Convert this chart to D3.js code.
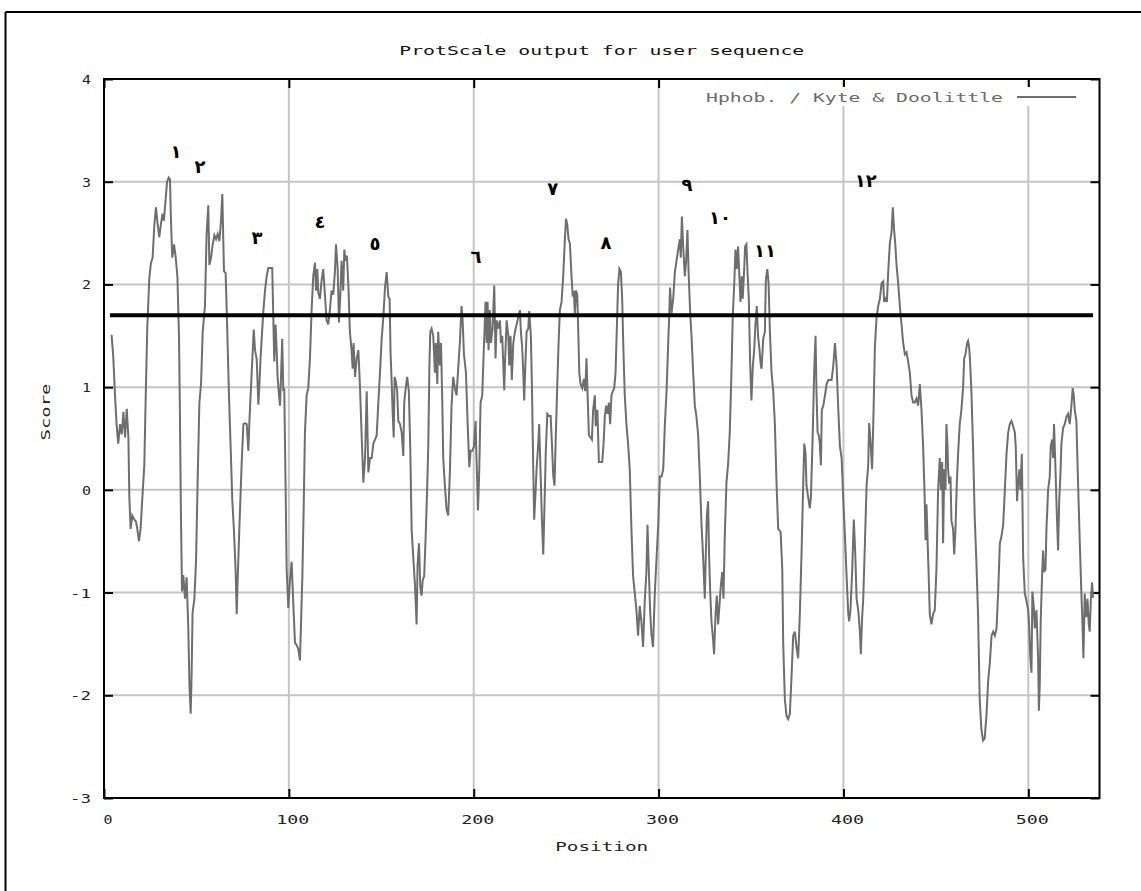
<!DOCTYPE html>
<html>
<head>
<meta charset="utf-8">
<script src="https://cdn.jsdelivr.net/npm/d3@7"></script>
<style>
  body { margin: 0; background: #fff; }
  svg text { font-family: "DejaVu Sans Mono", "Liberation Mono", monospace; }
</style>
</head>
<body>
<div id="chart"></div>
<script>
const width = 1141;
const height = 891;

// texts
const title = "ProtScale output for user sequence";
const legendLabel = "Hphob. / Kyte & Doolittle";
const xLabel = "Position";
const yLabel = "Score";

// axes
const xDomain = [0, 538.5];
const yDomain = [-3, 4];
const xTicks = [0, 100, 200, 300, 400, 500];
const yTicks = [-3, -2, -1, 0, 1, 2, 3, 4];

// cut-off line drawn over the profile
const threshold = 1.7;
const thresholdFrom = 3.2;
const thresholdTo = 535;

// hand-written peak numbers
const peakLabels = ["١", "٢", "٣", "٤", "٥", "٦", "٧", "٨", "٩", "١٠", "١١", "١٢"];
const peakPositions = [38.9, 51.9, 82.7, 116.8, 146.6, 201.2, 242.8, 271.5, 315.3, 333.2, 357.5, 412.1];
const peakScores = [3.29, 3.15, 2.46, 2.61, 2.40, 2.27, 2.93, 2.41, 2.97, 2.65, 2.33, 3.01];

// [position, score]
const profile = [
  [4.1,1.51],[5.0,1.30],[5.9,0.94],[6.8,0.64],[7.7,0.45],[8.7,0.64],[9.6,0.54],[10.5,0.76],[11.4,0.51],[12.3,0.79],
  [13.2,0.51],[13.7,-0.07],[14.4,-0.38],[15.3,-0.25],[16.4,-0.29],[17.3,-0.31],[18.0,-0.38],[18.9,-0.50],[19.8,-0.38],[20.7,-0.09],
  [21.8,0.24],[22.5,0.85],[23.4,1.57],[24.5,2.06],[25.4,2.21],[26.3,2.26],[27.2,2.57],[28.1,2.75],[29.0,2.59],[29.9,2.46],
  [30.8,2.59],[31.7,2.69],[32.4,2.62],[33.4,2.84],[34.1,3.00],[35.0,3.04],[35.7,3.02],[36.2,2.64],[36.9,2.26],[37.9,2.39],
  [38.8,2.26],[39.7,2.08],[40.6,1.47],[41.1,0.69],[41.6,-0.22],[42.2,-0.99],[42.9,-0.83],[43.8,-1.06],[44.7,-0.85],[45.6,-1.35],
  [46.2,-1.89],[46.9,-2.18],[47.4,-1.79],[47.9,-1.20],[48.9,-1.06],[49.8,-0.68],[50.7,0.13],[51.6,0.85],[52.5,1.03],[53.4,1.54],
  [54.6,1.79],[55.5,2.49],[56.4,2.77],[57.0,2.19],[57.9,2.26],[58.8,2.39],[59.7,2.48],[60.6,2.44],[61.5,2.49],[62.4,2.42],
  [63.3,2.62],[64.0,2.88],[64.9,2.13],[65.8,2.11],[66.7,1.54],[67.6,0.92],[68.5,0.42],[69.4,-0.10],[70.3,-0.40],[71.2,-0.79],
  [71.8,-1.21],[72.3,-0.88],[73.2,-0.38],[74.5,0.27],[75.4,0.64],[76.3,0.65],[77.2,0.64],[78.1,0.38],[78.6,0.64],[79.3,0.92],
  [80.0,1.18],[81.0,1.56],[81.7,1.36],[82.6,1.27],[83.5,0.83],[84.0,1.00],[84.7,1.29],[85.6,1.56],[86.2,1.74],[87.1,1.94],
  [88.0,2.08],[88.9,2.16],[90.0,2.16],[91.0,2.16],[91.6,1.66],[92.1,1.25],[92.8,1.61],[93.4,1.36],[93.9,1.10],[94.6,0.94],
  [95.2,0.82],[95.7,1.07],[96.4,1.47],[97.0,0.96],[97.5,0.99],[98.2,0.07],[98.8,-0.77],[99.7,-1.15],[100.6,-0.88],[101.5,-0.70],
  [102.4,-1.11],[103.3,-1.49],[104.2,-1.51],[105.1,-1.55],[106.0,-1.66],[106.5,-1.35],[107.3,-0.84],[108.0,-0.19],[108.7,0.56],[109.6,0.92],
  [110.5,0.99],[111.4,1.28],[112.3,1.75],[113.2,2.08],[114.1,2.21],[114.7,1.94],[115.4,2.15],[115.9,1.92],[116.8,1.86],[117.7,2.04],
  [118.6,2.15],[119.5,1.90],[120.4,1.65],[121.3,1.61],[122.2,1.75],[123.1,1.94],[124.0,1.90],[124.9,2.12],[125.5,2.39],[126.4,2.15],
  [127.1,1.63],[127.8,1.88],[128.5,2.23],[129.4,1.94],[130.0,2.34],[130.7,2.23],[131.4,2.28],[132.2,1.99],[133.0,1.54],[133.9,1.36],
  [134.5,1.18],[135.0,1.43],[135.8,1.10],[136.7,1.28],[137.6,1.36],[138.5,0.99],[139.4,0.51],[140.3,0.07],[141.2,0.31],[142.1,0.96],
  [143.0,0.17],[143.9,0.31],[144.8,0.31],[145.7,0.45],[146.6,0.49],[147.5,0.53],[148.4,0.85],[149.3,1.14],[150.2,1.47],[151.1,1.68],
  [152.0,1.97],[152.9,2.12],[153.8,1.88],[154.5,1.86],[155.0,1.34],[155.6,1.05],[156.1,0.78],[156.7,0.51],[157.2,1.10],[157.9,1.05],
  [158.6,0.96],[159.2,0.67],[160.1,0.64],[161.0,0.56],[161.9,0.33],[162.4,0.85],[163.2,0.99],[164.0,1.10],[164.9,0.96],[165.7,0.38],
  [166.4,-0.38],[167.3,-0.66],[168.2,-0.92],[169.1,-1.31],[169.6,-0.74],[170.4,-0.52],[171.1,-0.95],[171.8,-1.03],[172.4,-0.88],[173.2,-0.84],
  [174.0,-0.45],[174.9,0.07],[175.4,0.42],[176.0,1.18],[176.5,1.54],[177.2,1.57],[178.1,1.50],[179.0,1.14],[179.5,1.43],[180.3,1.03],
  [180.8,1.54],[181.7,1.21],[182.3,1.43],[183.0,0.85],[183.5,0.31],[184.4,0.04],[185.3,-0.19],[186.2,-0.25],[187.1,0.17],[188.0,0.82],
  [188.9,1.10],[189.8,0.99],[190.7,0.92],[191.6,1.18],[192.5,1.43],[193.4,1.79],[194.0,1.65],[194.7,1.32],[195.8,1.14],[196.7,0.65],
  [197.6,0.22],[198.3,0.38],[199.2,0.38],[200.1,0.42],[201.0,0.67],[201.5,0.31],[202.3,-0.20],[203.0,0.20],[203.7,0.85],[204.6,0.92],
  [205.5,1.39],[206.4,1.83],[207.0,1.43],[207.5,1.83],[208.0,1.36],[208.7,1.75],[209.3,1.43],[210.2,1.57],[211.1,1.99],[211.8,1.28],
  [212.4,1.65],[213.3,1.57],[214.2,1.65],[214.7,1.43],[215.4,1.50],[216.0,1.21],[216.5,0.97],[217.0,1.28],[217.8,1.65],[218.7,1.50],
  [219.2,1.21],[219.9,1.50],[220.6,1.07],[221.4,1.43],[222.3,1.54],[223.2,1.61],[224.1,1.68],[225.0,1.75],[225.5,1.54],[226.2,1.39],
  [226.8,1.14],[227.3,0.87],[228.0,1.25],[228.6,1.54],[229.5,1.57],[230.0,1.74],[230.9,1.50],[231.5,0.99],[232.2,0.20],[232.7,-0.29],
  [233.4,-0.04],[234.0,0.20],[234.9,0.45],[235.4,0.64],[236.2,0.14],[236.9,-0.30],[237.6,-0.63],[238.3,-0.14],[239.0,0.38],[239.8,0.74],
  [240.7,0.72],[241.6,0.72],[242.3,0.45],[243.0,0.14],[243.7,0.04],[244.4,0.53],[245.2,1.03],[245.9,1.43],[246.6,1.75],[247.5,1.83],
  [248.4,2.08],[249.3,2.44],[249.9,2.64],[250.6,2.58],[251.3,2.44],[252.0,2.40],[252.9,2.08],[253.5,1.90],[254.2,1.92],[254.7,1.72],
  [255.3,1.94],[256.0,1.90],[256.5,1.57],[257.1,1.14],[257.8,1.03],[258.7,0.99],[259.6,1.08],[260.3,0.96],[261.0,1.28],[261.6,0.92],
  [262.3,0.53],[263.2,0.51],[263.9,0.49],[264.6,0.78],[265.5,0.92],[266.0,0.62],[266.9,0.78],[267.7,0.27],[268.6,0.27],[269.5,0.27],
  [270.2,0.44],[270.9,0.71],[271.6,0.82],[272.4,0.74],[273.1,0.85],[273.8,0.64],[274.5,0.92],[275.2,0.96],[276.0,0.99],[276.7,1.14],
  [277.4,1.57],[278.1,2.00],[278.8,2.15],[279.6,2.12],[280.3,1.86],[281.0,1.34],[281.7,0.92],[282.6,0.64],[283.5,0.45],[284.4,0.20],
  [285.3,-0.38],[286.2,-0.84],[287.1,-1.00],[288.0,-1.17],[288.9,-1.42],[289.8,-1.13],[290.7,-1.28],[291.6,-1.53],[292.5,-1.09],[293.4,-0.80],
  [294.0,-0.34],[294.7,-0.77],[295.4,-1.17],[296.1,-1.40],[297.0,-1.53],[297.9,-1.03],[298.9,-0.66],[299.8,-0.34],[300.7,0.13],[301.6,0.13],
  [302.5,0.20],[303.4,0.64],[304.3,0.96],[305.2,1.43],[305.7,1.68],[306.2,1.97],[307.0,1.72],[307.9,1.86],[308.8,2.12],[309.7,2.23],
  [310.6,2.34],[311.5,2.44],[312.0,2.26],[312.6,2.66],[313.3,2.37],[314.2,2.08],[314.9,2.23],[315.6,2.53],[316.3,2.08],[317.1,1.72],
  [317.8,1.50],[318.7,1.14],[319.6,0.82],[320.5,0.71],[321.4,0.53],[322.3,0.13],[323.2,-0.34],[324.1,-0.66],[325.0,-1.06],[325.5,-0.66],
  [326.1,-0.25],[326.8,-0.11],[327.3,-0.63],[327.9,-0.99],[328.6,-1.28],[329.5,-1.46],[330.0,-1.60],[330.8,-1.21],[331.5,-1.03],[332.2,-1.31],
  [332.9,-1.13],[333.6,-0.95],[334.4,-0.80],[335.1,-1.06],[335.8,-0.45],[336.7,0.07],[337.6,0.25],[338.5,0.56],[339.4,1.14],[340.1,1.68],
  [340.9,2.00],[341.6,2.34],[342.3,2.15],[343.0,2.37],[343.7,2.08],[344.3,1.83],[345.0,2.08],[345.5,1.86],[346.3,2.15],[346.8,2.37],
  [347.5,2.39],[348.1,2.12],[348.8,1.86],[349.5,1.25],[350.2,0.87],[351.0,1.21],[351.7,1.36],[352.4,1.61],[353.1,1.79],[353.8,1.50],
  [354.6,1.36],[355.3,1.21],[355.7,1.18],[356.6,1.47],[357.5,1.54],[358.0,2.04],[358.8,2.15],[359.5,2.01],[360.2,1.54],[361.1,1.14],
  [362.0,0.96],[362.9,0.64],[363.8,0.06],[364.7,-0.38],[366.0,-0.41],[366.9,-0.77],[367.4,-1.49],[368.3,-2.04],[369.2,-2.20],[370.1,-2.23],
  [371.0,-2.18],[371.9,-1.82],[372.8,-1.42],[373.7,-1.38],[374.6,-1.53],[375.5,-1.64],[376.4,-1.21],[377.3,-0.63],[378.2,0.04],[378.8,0.45],
  [379.5,0.35],[380.0,0.04],[380.9,-0.07],[381.8,-0.18],[382.4,-0.07],[383.3,0.49],[384.2,1.18],[384.9,1.50],[385.4,0.96],[386.0,0.56],
  [386.7,0.53],[387.2,0.45],[387.8,0.24],[388.3,0.78],[389.1,0.82],[390.0,0.92],[390.9,1.03],[391.8,1.07],[392.7,1.07],[393.6,1.07],
  [394.5,1.21],[395.4,1.43],[396.3,1.21],[397.2,0.78],[398.1,0.42],[399.0,0.31],[399.9,-0.09],[400.8,-0.45],[401.7,-0.84],[402.6,-1.21],
  [403.1,-1.28],[403.8,-1.17],[404.7,-0.80],[405.6,-0.29],[406.4,-0.63],[407.1,-1.06],[408.0,-1.17],[408.9,-1.38],[409.4,-1.60],[410.1,-1.24],
  [410.7,-1.06],[411.6,-0.52],[412.5,0.04],[413.4,0.24],[413.9,0.65],[414.8,0.42],[415.5,0.20],[416.3,0.78],[417.0,1.39],[417.9,1.68],
  [418.8,1.79],[419.7,1.86],[420.6,2.01],[421.5,2.03],[422.0,1.83],[422.8,1.86],[423.5,1.83],[424.2,2.12],[425.1,2.40],[426.0,2.51],
  [426.7,2.75],[427.3,2.55],[428.0,2.40],[428.7,2.19],[429.6,2.01],[430.5,1.79],[431.4,1.61],[432.3,1.43],[433.2,1.32],[434.1,1.34],
  [435.0,1.25],[435.9,1.14],[436.8,0.92],[437.7,0.85],[438.6,0.85],[439.5,0.89],[440.4,0.82],[441.3,1.03],[442.2,0.78],[443.1,0.42],
  [443.9,-0.05],[444.4,-0.49],[444.9,-0.14],[445.8,-0.66],[446.7,-1.21],[447.6,-1.31],[448.5,-1.21],[449.4,-1.17],[450.3,-0.77],[451.2,0.00],
  [452.1,0.31],[452.7,0.00],[453.4,0.27],[453.9,-0.52],[454.5,0.20],[455.2,0.00],[455.7,0.64],[456.3,0.42],[456.6,0.20],[457.2,0.06],
  [457.9,0.13],[458.4,-0.30],[459.3,-0.38],[459.9,-0.63],[460.6,-0.38],[461.3,0.06],[462.0,0.35],[462.9,0.64],[463.8,0.78],[464.7,0.99],
  [465.3,1.28],[466.0,1.32],[466.9,1.43],[467.4,1.45],[468.0,1.39],[468.5,1.25],[469.2,0.96],[470.1,0.42],[471.0,-0.27],[471.9,-0.70],
  [472.8,-1.21],[473.7,-2.04],[474.6,-2.33],[475.5,-2.44],[476.4,-2.42],[477.4,-2.18],[478.3,-1.85],[479.2,-1.68],[480.1,-1.42],[481.0,-1.38],
  [481.9,-1.42],[482.8,-1.35],[483.7,-0.99],[484.6,-0.52],[485.5,-0.45],[486.4,-0.34],[487.3,0.00],[488.2,0.35],[489.1,0.56],[490.0,0.64],
  [490.9,0.67],[491.8,0.62],[492.7,0.56],[493.2,0.42],[493.9,-0.11],[494.5,0.07],[495.2,0.20],[495.7,0.00],[496.5,0.35],[497.2,-0.66],
  [498.1,-1.01],[499.0,-1.08],[499.9,-1.17],[500.4,-1.31],[501.0,-1.60],[501.7,-1.78],[502.2,-0.99],[502.9,-1.13],[503.5,-1.35],[504.4,-1.17],
  [505.3,-1.64],[505.7,-2.15],[506.2,-1.89],[506.7,-1.28],[507.5,-0.80],[508.0,-0.59],[508.5,-0.80],[509.3,-0.77],[509.8,-0.38],[510.7,0.00],
  [511.6,0.13],[512.1,0.42],[512.9,0.49],[513.4,0.31],[513.9,0.64],[514.7,0.20],[515.4,-0.23],[516.1,-0.59],[516.7,-0.11],[517.4,0.17],
  [517.9,0.45],[518.8,0.60],[519.7,0.64],[520.6,0.71],[521.5,0.74],[522.4,0.64],[523.3,0.82],[524.0,0.99],[524.6,0.92],[525.1,0.78],
  [526.0,0.67],[526.9,0.07],[527.8,-0.49],[528.7,-1.01],[529.3,-1.31],[529.8,-1.64],[530.5,-1.01],[531.3,-1.24],[532.0,-1.06],[532.7,-1.31],
  [533.2,-1.38],[533.8,-1.08],[534.5,-0.90],[535.0,-1.05]
];

const plot = { left: 104, right: 1099.5, top: 79, bottom: 798 };
const charWidth = 12; // the original bitmap font is about 12px per character
const lineColor = "#6e6e6e";
const gridColor = "#c4c4c4";

const x = d3.scaleLinear().domain(xDomain).range([plot.left, plot.right]);
const y = d3.scaleLinear().domain(yDomain).range([plot.bottom, plot.top]);

const svg = d3
  .select("#chart")
  .append("svg")
  .attr("width", width)
  .attr("height", height)
  .style("display", "block")
  .style("background", "#fff");

// stretched mono text, to look like the wide bitmap font
const addText = (g, str, px, py, anchor) =>
  g
    .append("text")
    .attr("x", px)
    .attr("y", py)
    .attr("text-anchor", anchor)
    .attr("font-size", 13)
    .attr("textLength", str.length * charWidth - 3)
    .attr("lengthAdjust", "spacingAndGlyphs")
    .text(str);

// outer frame (left and top edges only are visible)
svg.append("line").attr("x1", 5.5).attr("x2", 5.5).attr("y1", 12).attr("y2", height)
  .attr("stroke", "#000").attr("stroke-width", 2);
svg.append("line").attr("x1", 5.5).attr("x2", width).attr("y1", 12).attr("y2", 12)
  .attr("stroke", "#000").attr("stroke-width", 2);

// grid
const grid = svg.append("g").attr("stroke", gridColor).attr("stroke-width", 2);
grid.selectAll("line.gx")
  .data(xTicks.filter((d) => d > xDomain[0]))
  .enter()
  .append("line")
  .attr("x1", (d) => x(d))
  .attr("x2", (d) => x(d))
  .attr("y1", plot.top)
  .attr("y2", plot.bottom);
grid.selectAll("line.gy")
  .data(yTicks.filter((d) => d > yDomain[0] && d < yDomain[1]))
  .enter()
  .append("line")
  .attr("x1", plot.left)
  .attr("x2", plot.right)
  .attr("y1", (d) => y(d))
  .attr("y2", (d) => y(d));

// inward tick marks on all four sides
const tickLen = 9;
const axisBottom = d3.axisBottom(x).tickValues(xTicks).tickSize(-tickLen).tickFormat("");
const axisTop = d3.axisTop(x).tickValues(xTicks).tickSize(-tickLen).tickFormat("");
const axisLeft = d3.axisLeft(y).tickValues(yTicks).tickSize(-tickLen).tickFormat("");
const axisRight = d3.axisRight(y).tickValues(yTicks).tickSize(-tickLen).tickFormat("");
[
  [axisBottom, `translate(0,${plot.bottom})`],
  [axisTop, `translate(0,${plot.top})`],
  [axisLeft, `translate(${plot.left},0)`],
  [axisRight, `translate(${plot.right},0)`],
].forEach(([ax, tr]) => {
  const g = svg.append("g").attr("transform", tr).call(ax);
  g.select(".domain").remove();
  g.selectAll(".tick line").attr("stroke", "#000").attr("stroke-width", 2);
});

// legend (white key box interrupts the grid)
const legend = svg.append("g");
legend.append("rect")
  .attr("x", 698).attr("y", 87).attr("width", 385).attr("height", 19)
  .attr("fill", "#fff");
addText(legend, legendLabel, 1003, 102, "end").attr("fill", "#6a6a6a");
legend.append("line")
  .attr("x1", 1017).attr("x2", 1076).attr("y1", 97).attr("y2", 97)
  .attr("stroke", lineColor).attr("stroke-width", 2);

// profile line
const line = d3
  .line()
  .x((d) => x(d[0]))
  .y((d) => y(d[1]));

svg.append("path")
  .datum(profile)
  .attr("fill", "none")
  .attr("stroke", lineColor)
  .attr("stroke-width", 2)
  .attr("d", line);

// threshold line
svg.append("line")
  .attr("x1", x(thresholdFrom))
  .attr("x2", x(thresholdTo))
  .attr("y1", y(threshold))
  .attr("y2", y(threshold))
  .attr("stroke", "#000")
  .attr("stroke-width", 4);

// plot frame
svg.append("rect")
  .attr("x", plot.left)
  .attr("y", plot.top)
  .attr("width", plot.right - plot.left)
  .attr("height", plot.bottom - plot.top)
  .attr("fill", "none")
  .attr("stroke", "#000")
  .attr("stroke-width", 2);

// tick labels
const labels = svg.append("g").attr("fill", "#222");
xTicks.forEach((d) => addText(labels, String(d), x(d) + 4, plot.bottom + 26, "middle"));
yTicks.forEach((d) => addText(labels, String(d), 91, y(d) + 5, "end"));

// titles
addText(svg, title, (plot.left + plot.right) / 2, 55, "middle").attr("fill", "#111");
addText(svg, xLabel, (plot.left + plot.right) / 2, 851, "middle").attr("fill", "#222");
addText(svg, yLabel, 0, 0, "middle")
  .attr("fill", "#222")
  .attr("transform", "translate(50,412) rotate(-90)");

// peak numbers
svg.append("g")
  .selectAll("text")
  .data(peakLabels)
  .enter()
  .append("text")
  .attr("x", (d, i) => x(peakPositions[i]))
  .attr("y", (d, i) => y(peakScores[i]))
  .attr("text-anchor", "middle")
  .attr("dominant-baseline", "central")
  .style("font-family", '"DejaVu Sans", sans-serif')
  .style("font-weight", "bold")
  .style("font-size", "18px")
  .attr("fill", "#000")
  .text((d) => d);
</script>
</body>
</html>
